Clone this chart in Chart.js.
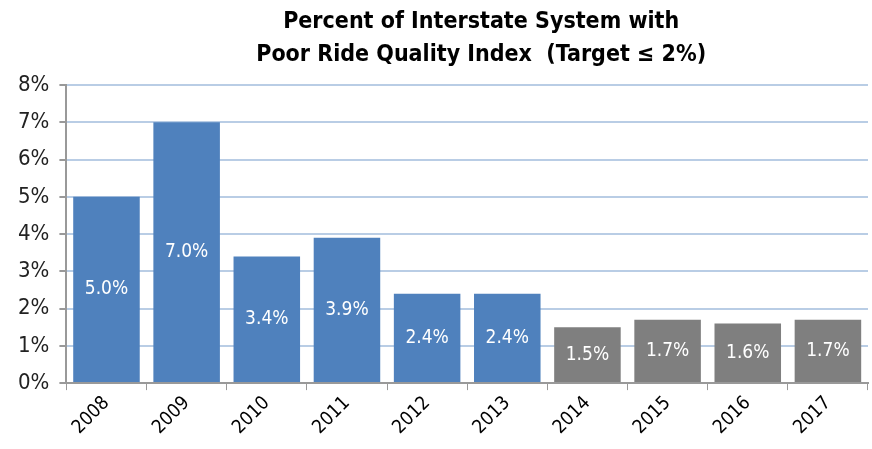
<!DOCTYPE html>
<html>
<head>
<meta charset="utf-8">
<script src="https://cdn.jsdelivr.net/npm/chart.js@4"></script>
<style>
  html, body { margin: 0; padding: 0; background: #fff; }
  #wrap { width: 872px; height: 449px; }
</style>
</head>
<body>
<div id="wrap"><canvas id="myChart"></canvas></div>
<script>
let years = ['2008', '2009', '2010', '2011', '2012', '2013', '2014', '2015', '2016', '2017'];
let values = [5.0, 7.0, 3.4, 3.9, 2.4, 2.4, 1.5, 1.7, 1.6, 1.7];
let colorHex = ['#4f81bd', '#4f81bd', '#4f81bd', '#4f81bd', '#4f81bd', '#4f81bd',
                '#7f7f7f', '#7f7f7f', '#7f7f7f', '#7f7f7f'];
let titleLines = ['Percent of Interstate System with', 'Poor Ride Quality Index  (Target \u2264 2%)'];

let fontName = "'Liberation Sans Narrow', 'Arial Narrow', 'DejaVu Sans Condensed', sans-serif";

// labels in the middle of each bar
let barLabels = {
  id: 'barLabels',
  afterDatasetsDraw(chart) {
    let ctx = chart.ctx;
    let meta = chart.getDatasetMeta(0);
    ctx.save();
    ctx.fillStyle = '#fff';
    ctx.font = '19px ' + fontName;
    ctx.textAlign = 'center';
    ctx.textBaseline = 'middle';
    meta.data.forEach((bar, i) => {
      let y = (bar.y + bar.base) / 2;
      ctx.fillText(values[i].toFixed(1) + '%', bar.x, y);
    });
    ctx.restore();
  }
};

// title sits a bit right of the canvas centre, like the original
let topTitle = {
  id: 'topTitle',
  afterDraw(chart) {
    let ctx = chart.ctx;
    let area = chart.chartArea;
    let cx = (area.left + area.right) / 2 + 14;
    ctx.save();
    ctx.fillStyle = '#000';
    ctx.font = 'bold 23px ' + fontName;
    ctx.textAlign = 'center';
    ctx.textBaseline = 'middle';
    titleLines.forEach((line, i) => {
      ctx.fillText(line, cx, 22 + i * 33);
    });
    ctx.restore();
  }
};

let ctx = document.getElementById('myChart').getContext('2d');
let myChart = new Chart(ctx, {
  type: 'bar',
  data: {
    labels: years,
    datasets: [{
      data: values,
      backgroundColor: colorHex,
      barPercentage: 0.83,
      categoryPercentage: 1.0
    }]
  },
  options: {
    responsive: true,
    maintainAspectRatio: false,
    animation: false,
    layout: { padding: { left: 8, right: 4, top: 85, bottom: 8 } },
    plugins: {
      legend: { display: false },
      tooltip: { enabled: false },
      title: { display: false }
    },
    scales: {
      x: {
        grid: {
          offset: true,
          drawOnChartArea: false,
          drawTicks: true,
          tickLength: 7,
          color: '#999'
        },
        border: { color: '#999', width: 2 },
        ticks: {
          color: '#000',
          font: { family: fontName, size: 19 },
          minRotation: 45,
          maxRotation: 45,
          padding: 2
        }
      },
      y: {
        min: 0,
        max: 8,
        ticks: {
          stepSize: 1,
          color: '#222',
          font: { family: fontName, size: 22 },
          padding: 10,
          callback: (v) => v + '%'
        },
        grid: {
          color: '#b9cde5',
          lineWidth: 2,
          tickColor: '#999',
          tickLength: 7
        },
        border: { color: '#999', width: 2 }
      }
    }
  },
  plugins: [barLabels, topTitle]
});
</script>
</body>
</html>
